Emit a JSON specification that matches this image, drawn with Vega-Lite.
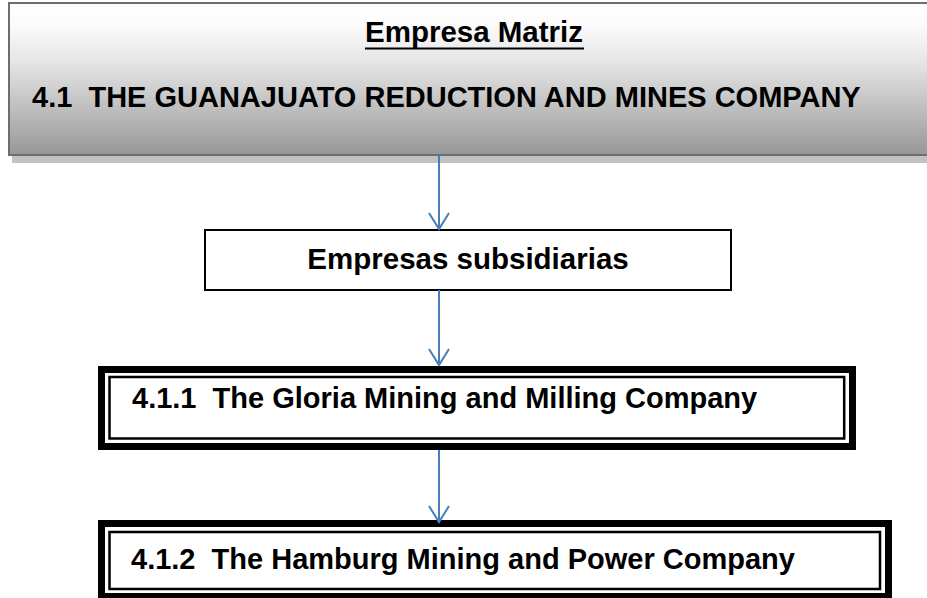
{
  "$schema": "https://vega.github.io/schema/vega-lite/v6.json",
  "width": 927,
  "height": 598,
  "autosize": {"type": "fit", "contains": "padding"},
  "padding": 0,
  "background": "white",
  "config": {"view": {"stroke": null}},
  "datasets": {
    "shadow": [{"x": 12, "x2": 1000, "y": 10, "y2": 163}],
    "parent": [{"x": 9, "x2": 1000, "y": 3, "y2": 155}],
    "sub": [{"x": 205, "x2": 731, "y": 230, "y2": 290}],
    "outer": [
      {"x": 101.5, "x2": 852.5, "y": 369.5, "y2": 446.5},
      {"x": 101.5, "x2": 888.5, "y": 523.5, "y2": 596.5}
    ],
    "inner": [
      {"x": 109.5, "x2": 844.2, "y": 377, "y2": 438.5},
      {"x": 109.5, "x2": 880, "y": 532, "y2": 589}
    ],
    "shafts": [
      {"x": 439, "y": 155, "y2": 229},
      {"x": 439, "y": 290, "y2": 365},
      {"x": 439, "y": 450, "y2": 522}
    ],
    "heads": [
      {"a": 1, "o": 1, "x": 429, "y": 213},
      {"a": 1, "o": 2, "x": 439, "y": 229},
      {"a": 1, "o": 3, "x": 449, "y": 213},
      {"a": 2, "o": 1, "x": 429, "y": 349},
      {"a": 2, "o": 2, "x": 439, "y": 365},
      {"a": 2, "o": 3, "x": 449, "y": 349},
      {"a": 3, "o": 1, "x": 429, "y": 506},
      {"a": 3, "o": 2, "x": 439, "y": 522},
      {"a": 3, "o": 3, "x": 449, "y": 506}
    ],
    "underline": [{"x": 365, "x2": 584, "y": 48.5}],
    "centered": [
      {"t": "Empresa Matriz", "x": 474, "y": 42},
      {"t": "Empresas subsidiarias", "x": 468, "y": 269}
    ],
    "lefttext": [
      {"t": "4.1\u00a0 THE GUANAJUATO REDUCTION AND MINES COMPANY", "x": 32, "y": 107},
      {"t": "4.1.1\u00a0 The Gloria Mining and Milling Company", "x": 132, "y": 408},
      {"t": "4.1.2\u00a0 The Hamburg Mining and Power Company", "x": 131, "y": 569}
    ]
  },
  "layer": [
    {
      "data": {"name": "shadow"},
      "mark": {"type": "rect", "fill": "#c2c2c2", "clip": true},
      "encoding": {
        "x": {"field": "x", "type": "quantitative", "scale": {"domain": [0, 927], "nice": false, "zero": false}, "axis": null},
        "x2": {"field": "x2"},
        "y": {"field": "y", "type": "quantitative", "scale": {"domain": [0, 598], "nice": false, "zero": false, "reverse": true}, "axis": null},
        "y2": {"field": "y2"}
      }
    },
    {
      "data": {"name": "parent"},
      "mark": {
        "type": "rect",
        "clip": true,
        "stroke": "#6e6e6e",
        "strokeWidth": 2,
        "fill": {
          "gradient": "linear",
          "x1": 0, "y1": 0, "x2": 0, "y2": 1,
          "stops": [
            {"offset": 0, "color": "#ffffff"},
            {"offset": 0.15, "color": "#fbfbfb"},
            {"offset": 0.4, "color": "#e4e4e4"},
            {"offset": 0.65, "color": "#c4c4c4"},
            {"offset": 1, "color": "#979797"}
          ]
        }
      },
      "encoding": {
        "x": {"field": "x", "type": "quantitative", "axis": null},
        "x2": {"field": "x2"},
        "y": {"field": "y", "type": "quantitative", "axis": null},
        "y2": {"field": "y2"}
      }
    },
    {
      "data": {"name": "sub"},
      "mark": {"type": "rect", "fill": "white", "stroke": "black", "strokeWidth": 2},
      "encoding": {
        "x": {"field": "x", "type": "quantitative", "axis": null},
        "x2": {"field": "x2"},
        "y": {"field": "y", "type": "quantitative", "axis": null},
        "y2": {"field": "y2"}
      }
    },
    {
      "data": {"name": "outer"},
      "mark": {"type": "rect", "fill": "white", "stroke": "black", "strokeWidth": 7, "clip": true},
      "encoding": {
        "x": {"field": "x", "type": "quantitative", "axis": null},
        "x2": {"field": "x2"},
        "y": {"field": "y", "type": "quantitative", "axis": null},
        "y2": {"field": "y2"}
      }
    },
    {
      "data": {"name": "inner"},
      "mark": {"type": "rect", "fill": null, "fillOpacity": 0, "stroke": "black", "strokeWidth": 2.5},
      "encoding": {
        "x": {"field": "x", "type": "quantitative", "axis": null},
        "x2": {"field": "x2"},
        "y": {"field": "y", "type": "quantitative", "axis": null},
        "y2": {"field": "y2"}
      }
    },
    {
      "data": {"name": "shafts"},
      "mark": {"type": "rule", "color": "#4a7ebb", "strokeWidth": 2},
      "encoding": {
        "x": {"field": "x", "type": "quantitative", "axis": null},
        "y": {"field": "y", "type": "quantitative", "axis": null},
        "y2": {"field": "y2"}
      }
    },
    {
      "data": {"name": "heads"},
      "mark": {"type": "line", "color": "#4a7ebb", "strokeWidth": 2},
      "encoding": {
        "x": {"field": "x", "type": "quantitative", "axis": null},
        "y": {"field": "y", "type": "quantitative", "axis": null},
        "detail": {"field": "a", "type": "nominal"},
        "order": {"field": "o", "type": "quantitative"}
      }
    },
    {
      "data": {"name": "underline"},
      "mark": {"type": "rule", "color": "black", "strokeWidth": 2},
      "encoding": {
        "x": {"field": "x", "type": "quantitative", "axis": null},
        "x2": {"field": "x2"},
        "y": {"field": "y", "type": "quantitative", "axis": null}
      }
    },
    {
      "data": {"name": "centered"},
      "mark": {"type": "text", "align": "center", "baseline": "alphabetic", "font": "Liberation Sans", "fontWeight": "bold", "fontSize": 29.5, "color": "black"},
      "encoding": {
        "x": {"field": "x", "type": "quantitative", "axis": null},
        "y": {"field": "y", "type": "quantitative", "axis": null},
        "text": {"field": "t"}
      }
    },
    {
      "data": {"name": "lefttext"},
      "mark": {"type": "text", "align": "left", "baseline": "alphabetic", "font": "Liberation Sans", "fontWeight": "bold", "fontSize": 29, "color": "black"},
      "encoding": {
        "x": {"field": "x", "type": "quantitative", "axis": null},
        "y": {"field": "y", "type": "quantitative", "axis": null},
        "text": {"field": "t"}
      }
    }
  ]
}
